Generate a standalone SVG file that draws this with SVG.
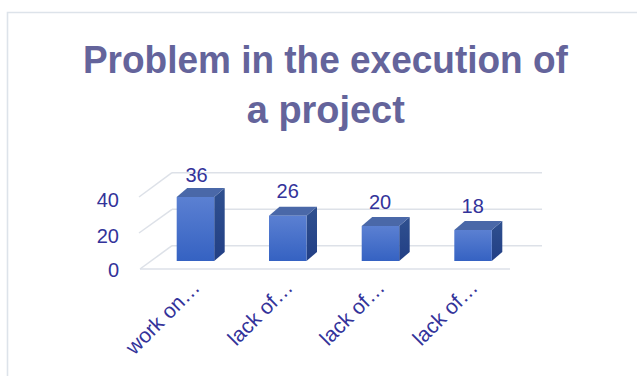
<svg xmlns="http://www.w3.org/2000/svg" width="637" height="376" viewBox="0 0 637 376">
<style>
.grid{stroke:#dde1e8;stroke-width:1.5;fill:none}
.title{font-family:"Liberation Sans",Arial,sans-serif;font-weight:bold;font-size:38.5px;fill:#64649b;text-anchor:middle}
.ax{font-family:"Liberation Sans",Arial,sans-serif;font-size:20px;fill:#33339a}
.val{font-family:"Liberation Sans",Arial,sans-serif;font-size:20px;fill:#33339a;text-anchor:middle}
.cat{font-family:"Liberation Sans",Arial,sans-serif;font-size:21px;fill:#33339a;text-anchor:end}
.side{fill:url(#gSide)}
.top{fill:#4a68a8}
.front{fill:url(#gFront)}
</style>
<defs>
<linearGradient id="gFront" x1="0" y1="0" x2="0" y2="1">
<stop offset="0" stop-color="#5b80d2"/>
<stop offset="1" stop-color="#3562c2"/>
</linearGradient>
<linearGradient id="gSide" x1="0" y1="0" x2="0" y2="1">
<stop offset="0" stop-color="#2f508f"/>
<stop offset="1" stop-color="#223f85"/>
</linearGradient>
</defs>
<rect x="0" y="0" width="637" height="376" fill="#ffffff"/>
<path d="M7.5 376 V12.5 H637" fill="none" stroke="#dde3ea" stroke-width="1.6"/>
<g id="title">
<text class="title" x="325.4" y="72.7" textLength="485" lengthAdjust="spacingAndGlyphs">Problem in the execution of</text>
<text class="title" x="325.8" y="123" textLength="158" lengthAdjust="spacingAndGlyphs">a project</text>
</g>
<g id="connectors">
<line class="grid" x1="172" y1="172.7" x2="542" y2="172.7"/>
<line class="grid" x1="172" y1="209.3" x2="542" y2="209.3"/>
<line class="grid" x1="172" y1="245.7" x2="542" y2="245.7"/>
<line class="grid" x1="139" y1="197" x2="172" y2="172.7"/>
<line class="grid" x1="139" y1="233" x2="172" y2="209.3"/>
<line class="grid" x1="140" y1="269" x2="172" y2="245.7"/>
<line class="grid" x1="140" y1="269" x2="510" y2="269"/>
</g>
<g id="axis">
<text class="ax" x="119" y="206.7" text-anchor="end">40</text>
<text class="ax" x="119" y="243" text-anchor="end">20</text>
<text class="ax" x="119" y="277" text-anchor="end">0</text>
</g>
<g id="bar1">
<polygon class="side" points="214.2,197 224.7,188 224.7,252 214.2,261"/>
<polygon class="top" points="176.7,197 187.2,188 224.7,188 214.2,197"/>
<rect class="front" x="176.7" y="197" width="37.5" height="64"/>
<text class="val" x="196.5" y="181.7">36</text>
</g>
<g id="bar2">
<polygon class="side" points="306.5,215.7 317,206.7 317,252 306.5,261"/>
<polygon class="top" points="269,215.7 279.5,206.7 317,206.7 306.5,215.7"/>
<rect class="front" x="269" y="215.7" width="37.5" height="45.3"/>
<text class="val" x="287.7" y="198.3">26</text>
</g>
<g id="bar3">
<polygon class="side" points="399.2,226 409.7,217 409.7,252 399.2,261"/>
<polygon class="top" points="361.7,226 372.2,217 409.7,217 399.2,226"/>
<rect class="front" x="361.7" y="226" width="37.5" height="35"/>
<text class="val" x="380" y="209.3">20</text>
</g>
<g id="bar4">
<polygon class="side" points="491.8,230 502.3,221 502.3,252 491.8,261"/>
<polygon class="top" points="454.3,230 464.8,221 502.3,221 491.8,230"/>
<rect class="front" x="454.3" y="230" width="37.5" height="31"/>
<text class="val" x="472.7" y="213.3">18</text>
</g>
<g id="categories">
<text class="cat" transform="translate(201,289) rotate(-45)">work on…</text>
<text class="cat" transform="translate(294,289) rotate(-45)">lack of…</text>
<text class="cat" transform="translate(386,289) rotate(-45)">lack of…</text>
<text class="cat" transform="translate(479,289) rotate(-45)">lack of…</text>
</g>
</svg>
